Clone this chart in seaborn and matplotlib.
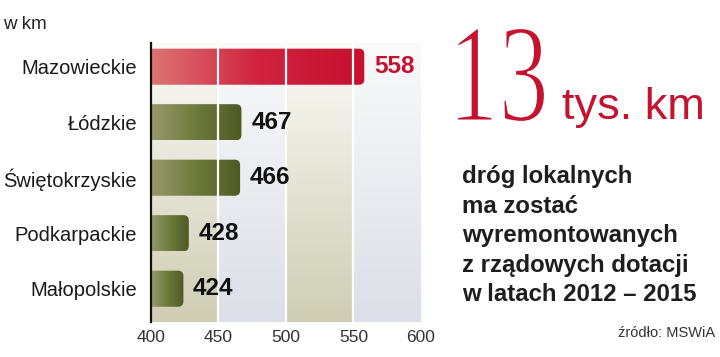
import numpy as np
import pandas as pd
import matplotlib
matplotlib.use("Agg")
import matplotlib.pyplot as plt
import seaborn as sns
from matplotlib.patches import FancyBboxPatch, PathPatch
from matplotlib.colors import LinearSegmentedColormap
from matplotlib.textpath import TextPath
from matplotlib.font_manager import FontProperties
from matplotlib.transforms import Affine2D

# data
regions = ['Mazowieckie', 'Łódzkie', 'Świętokrzyskie', 'Podkarpackie', 'Małopolskie']
km = [558, 467, 466, 428, 424]
xticks = [400, 450, 500, 550, 600]

df = pd.DataFrame({'region': regions, 'km': km})

sns.set_theme(style='white')
plt.rcParams['font.family'] = ['Liberation Sans', 'DejaVu Sans']

fig = plt.figure(figsize=(7.2, 3.57), dpi=100)
ax = fig.add_axes([0.2097, 0.098, 0.375, 0.782])

# background bands, white at top fading into tint at bottom
beige = LinearSegmentedColormap.from_list('b', ['#fafaf7', '#cfceb4'])
blue = LinearSegmentedColormap.from_list('g', ['#fafafb', '#dcdfe7'])
grad = np.linspace(0, 1, 100).reshape(-1, 1)
for i in range(len(xticks) - 1):
    cm = beige if i % 2 == 0 else blue
    ax.imshow(grad, cmap=cm, aspect='auto', extent=[xticks[i], xticks[i + 1], 4.6, -0.43],
              origin='upper', zorder=0)

sns.barplot(data=df, x='km', y='region', orient='h', width=0.65, ax=ax, zorder=2)

red_cm = LinearSegmentedColormap.from_list('r', ['#dc7474', '#d0233f', '#c5102e'])
grn_cm = LinearSegmentedColormap.from_list('o', ['#969a6c', '#6e7a3c', '#4e5a22'])
hgrad = np.linspace(0, 1, 200).reshape(1, -1)

for i, p in enumerate(list(ax.patches)):
    y0, h = p.get_y(), p.get_height()
    x0 = 400
    w = km[i] - 400
    p.set_visible(False)
    box = FancyBboxPatch((x0 - 10, y0), w + 10, h,
                         boxstyle='round,pad=0,rounding_size=4',
                         mutation_aspect=0.024, facecolor='none', edgecolor='none',
                         transform=ax.transData)
    ax.add_patch(box)
    im = ax.imshow(hgrad, cmap=red_cm if i == 0 else grn_cm, aspect='auto',
                   extent=[x0, km[i], y0 + h, y0], zorder=3)
    im.set_clip_path(box)
    ax.annotate(str(km[i]), xy=(km[i], y0 + h / 2), xytext=(7, 0), textcoords='offset points',
                va='center', ha='left', fontsize=17.5, fontweight='bold',
                color='#c5122f' if i == 0 else '#111111', zorder=5)

# white grid lines over bars
for xv in xticks[1:-1]:
    ax.axvline(xv, color='white', lw=1.6, zorder=4)

ax.set_xlim(400, 600)
ax.set_ylim(4.6, -0.43)
ax.set_xticks(xticks)
ax.set_xlabel('')
ax.set_ylabel('')
ax.tick_params(axis='x', length=0, pad=6, labelsize=12.5, labelcolor='#333333')
ax.tick_params(axis='y', length=0, pad=10, labelsize=14.5, labelcolor='#1a1a1a')
for s in ['top', 'right', 'bottom']:
    ax.spines[s].set_visible(False)
ax.spines['left'].set_color('#111111')
ax.spines['left'].set_linewidth(1.6)
ax.spines['left'].set_zorder(6)

fig.text(0.004, 0.918, 'w km', fontsize=13.5, color='#222222')

# big "13", squeezed to the narrow display face of the original
tp = TextPath((0, 0), '13', size=1, prop=FontProperties(family='Liberation Serif'))
ext = tp.get_extents()
sx = 88 / ext.width
sy = 94 / ext.height
tr = Affine2D().translate(-ext.x0, -ext.y0).scale(sx, sy).translate(457, 357 - 122)
fig.patches.append(PathPatch(tp, transform=tr, facecolor='#c5122f', edgecolor='white', lw=1.6))

fig.text(0.781, 0.668, 'tys. km', fontsize=32.5, color='#c5122f')

fig.text(0.642, 0.142,
         'dróg lokalnych\nma zostać\nwyremontowanych\nz rządowych dotacji\nw latach 2012 – 2015',
         fontsize=17.3, fontweight='bold', color='#1e1e1e', linespacing=1.36, va='bottom')

fig.text(0.993, 0.055, 'źródło: MSWiA', fontsize=10.5, color='#333333', ha='right')

fig.savefig('out.png', dpi=100)
